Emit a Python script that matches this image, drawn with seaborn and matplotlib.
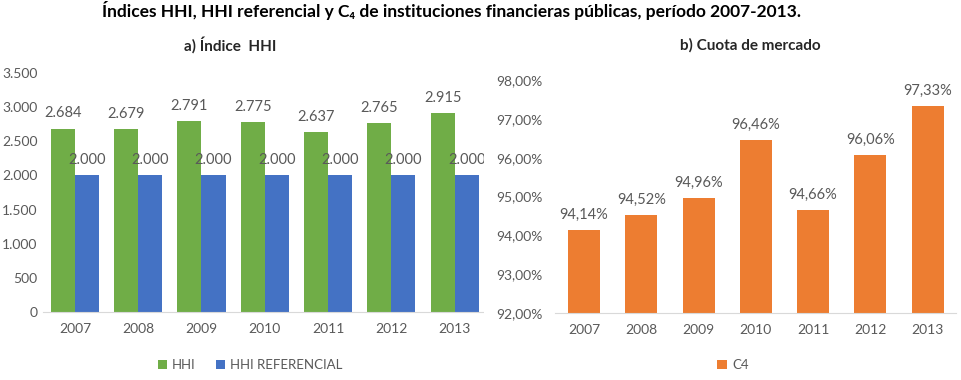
import matplotlib
matplotlib.use("Agg")
import matplotlib.pyplot as plt
import seaborn as sns
import pandas as pd
from matplotlib.patches import Rectangle

# ------------------------------
# Data
# ------------------------------
years = ["2007", "2008", "2009", "2010", "2011", "2012", "2013"]
hhi = [2684, 2679, 2791, 2775, 2637, 2765, 2915]
hhi_ref = [2000, 2000, 2000, 2000, 2000, 2000, 2000]
c4 = [94.14, 94.52, 94.96, 96.46, 94.66, 96.06, 97.33]

series_names = ["HHI", "HHI REFERENCIAL"]
hhi_ticks = [0, 500, 1000, 1500, 2000, 2500, 3000, 3500]
c4_ticks = [92, 93, 94, 95, 96, 97, 98]

GREEN = "#70AD47"
BLUE = "#4472C4"
ORANGE = "#ED7D31"
GREY = "#595959"

df_hhi = pd.DataFrame({
    "year": years * 2,
    "serie": [series_names[0]] * len(years) + [series_names[1]] * len(years),
    "valor": hhi + hhi_ref,
})
df_c4 = pd.DataFrame({"year": years, "serie": "C4", "valor": c4})

sns.set_style("white")
plt.rcParams["font.family"] = ["Lato", "DejaVu Sans"]
plt.rcParams["text.color"] = GREY


def miles(v):
    return f"{v:,.0f}".replace(",", ".")


def pct(v):
    return f"{v:.2f}%".replace(".", ",")


fig = plt.figure(figsize=(9.61, 3.8), dpi=100)

# ------------------------------
# a) Indice HHI
# ------------------------------
ax1 = fig.add_axes([0.045, 0.179, 0.461, 0.629])
ax1.set_zorder(1)
sns.barplot(data=df_hhi, x="year", y="valor", hue="serie",
            palette=[GREEN, BLUE], width=0.76, linewidth=0,
            saturation=1, ax=ax1)
ax1.set_ylim(0, 3500)
ax1.set_xlim(-0.5, 6.5)
ax1.set_yticks(hhi_ticks)
ax1.set_yticklabels([miles(t) for t in hhi_ticks])
ax1.set_xlabel("")
ax1.set_ylabel("")
for cont, vals in zip(ax1.containers, [hhi, hhi_ref]):
    ax1.bar_label(cont, labels=[miles(v) for v in vals], padding=6,
                  fontsize=10.5, color=GREY)
ax1.legend(loc="center", bbox_to_anchor=(250 / 961, 15 / 380),
           bbox_transform=fig.transFigure, ncol=2, frameon=False,
           fontsize=9.5, handlelength=0.7, handleheight=0.7,
           columnspacing=1.5, handletextpad=0.4, labelcolor=GREY)

# white background of the right chart (covers the end of the left one)
fig.add_artist(Rectangle((484 / 961, 0), 1 - 484 / 961, 1,
                         transform=fig.transFigure, facecolor="white",
                         edgecolor="none", zorder=2))

# ------------------------------
# b) Cuota de mercado
# ------------------------------
ax2 = fig.add_axes([0.578, 0.176, 0.417, 0.613])
ax2.set_zorder(3)
sns.barplot(data=df_c4, x="year", y="valor", hue="serie",
            palette=[ORANGE], width=0.56, linewidth=0,
            saturation=1, ax=ax2)
ax2.set_ylim(92, 98)
ax2.set_xlim(-0.5, 6.5)
ax2.set_yticks(c4_ticks)
ax2.set_yticklabels([pct(t) for t in c4_ticks])
ax2.set_xlabel("")
ax2.set_ylabel("")
ax2.bar_label(ax2.containers[0], labels=[pct(v) for v in c4], padding=6,
              fontsize=10.5, color=GREY)
ax2.legend(loc="center", bbox_to_anchor=(733 / 961, 15 / 380),
           bbox_transform=fig.transFigure, frameon=False,
           fontsize=9.5, handlelength=0.7, handleheight=0.7,
           handletextpad=0.4, labelcolor=GREY)

for ax, ypad in [(ax1, 4), (ax2, 9)]:
    sns.despine(ax=ax, left=True, top=True, right=True)
    ax.spines["bottom"].set_color("#D9D9D9")
    ax.tick_params(axis="x", length=0, pad=8, labelsize=10, labelcolor=GREY)
    ax.tick_params(axis="y", length=0, pad=ypad, labelsize=10, labelcolor=GREY)
    ax.set_facecolor("none")

# ------------------------------
# Titles
# ------------------------------
fig.text(0.47, 1 - 10 / 380, "Índices HHI, HHI referencial y C₄ de instituciones "
         "financieras públicas, período 2007-2013.",
         ha="center", va="center", fontsize=12.5, fontweight="bold",
         color="black")
fig.text(230 / 961, 1 - 45 / 380, "a) Índice  HHI", ha="center", va="center",
         fontsize=11, fontweight="bold", color="#262626")
fig.text(750 / 961, 1 - 45 / 380, "b) Cuota de mercado", ha="center",
         va="center", fontsize=11, fontweight="bold", color="#262626")

fig.savefig("out.png", dpi=100)
